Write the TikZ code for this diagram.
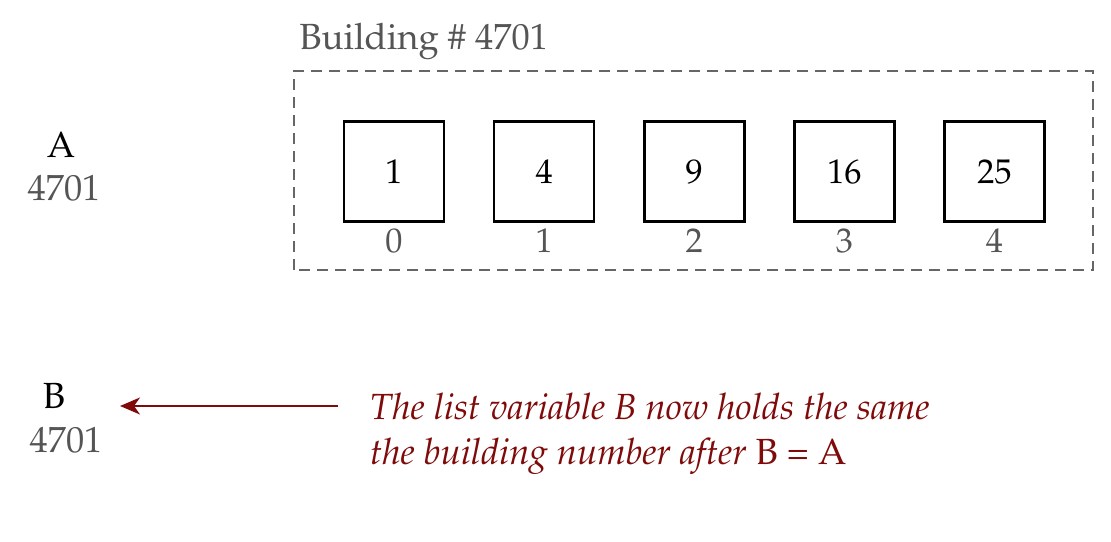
\documentclass[tikz,border=0pt]{standalone}
\usepackage[T1]{fontenc}
\usepackage{mathpazo}
\usepackage{tikz}
\usetikzlibrary{positioning,arrows.meta}
\definecolor{txtgray}{HTML}{555555}
\definecolor{framegray}{HTML}{666666}
\definecolor{notered}{HTML}{7F0A0A}

\begin{document}
\begin{tikzpicture}[every node/.style={font=\fontsize{20.7}{26}\selectfont},
    cell/.style={draw, line width=1.5pt, minimum size=2cm, inner sep=0pt, font=\fontsize{19.5}{24}\selectfont},
    idx/.style={text=txtgray, font=\fontsize{19.5}{24}\selectfont},
    val/.style={text=txtgray}]
      \useasboundingbox (0,0) rectangle (22.22,10.82);
      \draw[framegray, line width=1.5pt, dash pattern=on 0.22cm off 0.14cm] (5.88,5.42) rectangle (21.86,9.40);
      \node(title) [anchor=base west, text=txtgray, inner sep=0pt] at (5.98,9.82) {Building \# 4701};

      \node(c0) [cell] at (7.88,7.39) {1};
      \node(c1) [cell, right=0.95cm of c0] {4};
      \node(c2) [cell, right=0.95cm of c1] {9};
      \node(c3) [cell, right=0.95cm of c2] {16};
      \node(c4) [cell, right=0.95cm of c3] {25};
      \node(i0) [idx, below=0pt of c0] {0};
      \node(i1) [idx, below=0pt of c1] {1};
      \node(i2) [idx, below=0pt of c2] {2};
      \node(i3) [idx, below=0pt of c3] {3};
      \node(i4) [idx, below=0pt of c4] {4};

      \node(a) at (1.22,7.92) {A};
      \node(av) [val] at (1.28,7.06) {4701};
      \node(b) at (1.08,2.90) {B};
      \node(bv) [val] at (1.32,2.02) {4701};

      \coordinate(tail) at (6.76,2.70);
      \coordinate(tip) at (2.40,2.70);
      \draw[-{Stealth[length=0.4cm,width=0.34cm,inset=0.12cm]}, notered, line width=1.3pt] (tail) -- (tip);
      \node(note) [anchor=west, align=left, text=notered] at (7.28,2.14)
        {\itshape The list variable B now holds the same\\ \itshape the building number after \upshape B = A};
    \end{tikzpicture}
\end{document}
